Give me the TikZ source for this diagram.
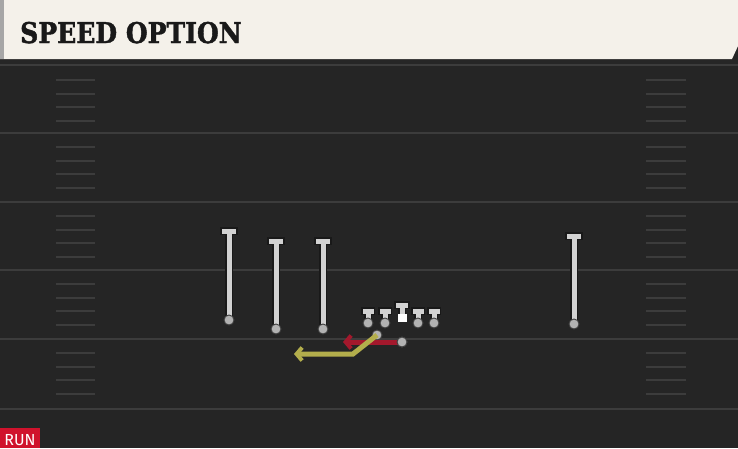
\documentclass[tikz,border=0pt]{standalone}
\usepackage{fontspec}
\usetikzlibrary{arrows.meta}
\newfontfamily\titlefont{DejaVu Serif}[BoldFeatures={FakeBold=1.6}]
\newfontfamily\tagfont{Fira Sans}
\definecolor{field}{HTML}{252525}
\definecolor{cream}{HTML}{F4F1EA}
\definecolor{chalk}{HTML}{3C3C3C}
\definecolor{runred}{HTML}{D0122C}
\definecolor{qbred}{HTML}{A3182C}
\definecolor{olive}{HTML}{B3AE4C}
\definecolor{pale}{HTML}{D2D2D2}

\begin{document}
\begin{tikzpicture}[x=1pt, y=-1pt,
    yardline/.style={chalk, line width=2pt},
    hashmark/.style={chalk, line width=2pt},
    stemout/.style={black!90, line width=7.5pt},
    stemin/.style={pale, line width=5pt},
    player/.style={circle, fill=gray!60, draw=black!75, line width=0.9pt, minimum size=10pt, inner sep=0pt},
    center/.style={rectangle, fill=white, minimum width=9pt, minimum height=8pt, inner sep=0pt},
    route/.style={line width=5pt, -{Straight Barb[length=5.5pt, width=13pt, line width=4pt]}}]
    \useasboundingbox (0,0) rectangle (738,448);

    % Field
    \fill[field] (0,0) rectangle (738,448);
    \fill[black!85] (0,59) rectangle (738,64);

    % Header
    \fill[cream] (0,0) -- (738,0) -- (738,46) -- (732,59) -- (0,59) -- cycle;
    \fill[gray!70] (0,0) rectangle (4,59);
    \node[anchor=base west, inner sep=0pt, font=\titlefont\bfseries\fontsize{28.5}{28.5}\selectfont, text=black!90] (title) at (20,43) {\scalebox{0.88}[1]{SPEED OPTION}};

    % Yard lines and hash marks
    \foreach \y in {65,133,202,270,339,409}
        \draw[yardline] (0,\y) -- (738,\y);
    \foreach \y in {66,133,202,270,339}
        \foreach \d in {13.5,27.5,41,55} {
            \draw[hashmark] (56,\y+\d) -- (95,\y+\d);
            \draw[hashmark] (646,\y+\d) -- (686,\y+\d);
        }

    % Receivers
    \foreach \n/\x/\t/\b in {wrA/229/231/320, wrB/276/241/329, wrC/323/241/329, wrD/574/236/324} {
        \coordinate (\n top) at (\x,\t);
        \draw[stemout] (\x,\b) -- (\n top);
        \draw[stemout, line cap=rect] ([xshift=-5pt]\n top) -- ([xshift=5pt]\n top);
        \draw[stemin] (\x,\b) -- (\n top);
        \draw[stemin, line cap=rect] ([xshift=-4.5pt]\n top) -- ([xshift=4.5pt]\n top);
        \node[player] (\n) at (\x,\b) {};
    }

    % Line
    \foreach \n/\x in {lgA/368, lgB/385, rgA/418, rgB/434} {
        \coordinate (\n top) at (\x,311);
        \draw[stemout] (\x,323) -- (\n top);
        \draw[stemout, line cap=rect] ([xshift=-3.5pt]\n top) -- ([xshift=3.5pt]\n top);
        \draw[stemin] (\x,323) -- (\n top);
        \draw[stemin, line cap=rect] ([xshift=-3pt]\n top) -- ([xshift=3pt]\n top);
        \node[player] (\n) at (\x,323) {};
    }
    \coordinate (ctop) at (402,305);
    \draw[stemout] (402,316) -- (ctop);
    \draw[stemout, line cap=rect] ([xshift=-4pt]ctop) -- ([xshift=4pt]ctop);
    \draw[stemin] (402,316) -- (ctop);
    \draw[stemin, line cap=rect] ([xshift=-3.5pt]ctop) -- ([xshift=3.5pt]ctop);
    \node[center] (c) at (402,318) {};

    % Backfield
    \node[player] (qb) at (402,342) {};
    \node[player] (rb) at (377,335) {};
    \coordinate (qbend) at (343,342);
    \coordinate (rbturn) at (353,354);
    \coordinate (rbend) at (294,354);
    \draw[route, qbred] (qb.center) -- (qbend);
    \node[player] at (qb) {};
    \draw[route, olive] (rb.center) -- (rbturn) -- (rbend);

    % Tag
    \fill[runred] (0,428) rectangle (40,448);
    \node[anchor=base, inner sep=0pt, text=white, font=\tagfont\fontsize{16}{16}\selectfont] (tag) at (20,445) {RUN};
\end{tikzpicture}
\end{document}
